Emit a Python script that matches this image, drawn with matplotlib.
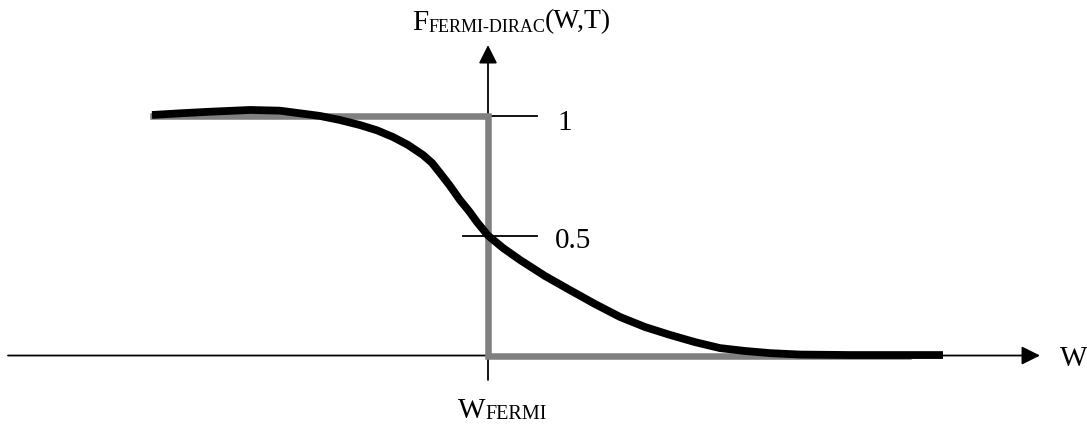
import matplotlib
matplotlib.use('Agg')
import matplotlib.pyplot as plt

# Fermi-Dirac curve (W relative to W_FERMI, F value)
w_curve = [-3.36, -3.08, -2.81, -2.38, -2.08, -1.68, -1.48, -1.28, -1.11, -0.95,
           -0.80, -0.65, -0.56, -0.48, -0.38, -0.28, -0.19, -0.11, 0.0, 0.15,
           0.32, 0.57, 0.82, 1.07, 1.32, 1.57, 1.82, 2.07, 2.32, 2.57,
           2.82, 3.12, 3.62, 4.55]
f_curve = [1.004, 1.011, 1.017, 1.025, 1.022, 1.0, 0.983, 0.962, 0.940, 0.912,
           0.879, 0.837, 0.804, 0.762, 0.708, 0.649, 0.603, 0.557, 0.501, 0.449,
           0.399, 0.332, 0.273, 0.215, 0.161, 0.119, 0.086, 0.056, 0.031, 0.019,
           0.010, 0.004, 0.002, 0.002]

# step function at T = 0
w_step = [-3.35, 0.0, 0.0, 4.2]
f_step = [1.0, 1.0, 0.0, 0.0]

tick_vals = [1.0, 0.5]
tick_labels = ['1', '0.5']

plt.rcParams['font.family'] = ['Liberation Serif', 'DejaVu Serif']

fig = plt.figure(figsize=(10.87, 4.25), dpi=100)
ax = fig.add_axes([0, 0, 1, 1])
ax.set_xlim(-4.88, 5.99)
ax.set_ylim(-0.290, 1.484)
ax.axis('off')

# axes with arrows
ax.annotate('', xy=(5.52, 0), xytext=(-4.80, 0),
            arrowprops=dict(arrowstyle='-|>', color='black', lw=1.3, mutation_scale=28,
                            shrinkA=0, shrinkB=0))
ax.annotate('', xy=(0, 1.296), xytext=(0, -0.102),
            arrowprops=dict(arrowstyle='-|>', color='black', lw=1.3, mutation_scale=28,
                            shrinkA=0, shrinkB=0))

# tick marks on the vertical axis
ax.plot([0, 0.49], [tick_vals[0]] * 2, color='black', lw=1.3)
ax.plot([-0.25, 0.49], [tick_vals[1]] * 2, color='black', lw=1.3)

ax.plot(w_step, f_step, color='#808080', lw=4.7, solid_joinstyle='miter', zorder=3)
ax.plot(w_curve, f_curve, color='black', lw=5.6, solid_capstyle='butt',
        solid_joinstyle='round', zorder=4)

ax.text(0.69, 0.942, tick_labels[0], fontsize=21, va='baseline', ha='left')
ax.text(0.67, 0.449, tick_labels[1], fontsize=21, va='baseline', ha='left')

ax.text(5.72, -0.044, 'W', fontsize=21, va='baseline', ha='left')

# W_FERMI label
t = ax.text(-0.30, -0.261, 'W', fontsize=21, va='baseline', ha='left')
ax.annotate('FERMI', xy=(1, 0), xycoords=t, fontsize=14.5, va='bottom', ha='left')

# F_FERMI-DIRAC(W,T) label
t1 = ax.text(-0.76, 1.359, 'F', fontsize=21, va='baseline', ha='left')
t2 = ax.annotate('FERMI-DIRAC', xy=(1, 0), xycoords=t1, fontsize=13, va='bottom',
                 ha='left')
ax.annotate('(W,T)', xy=(1, 0), xycoords=t2, fontsize=20, va='bottom', ha='left',
            xytext=(0, 1.5), textcoords='offset points')

fig.savefig('out.png', dpi=100)
